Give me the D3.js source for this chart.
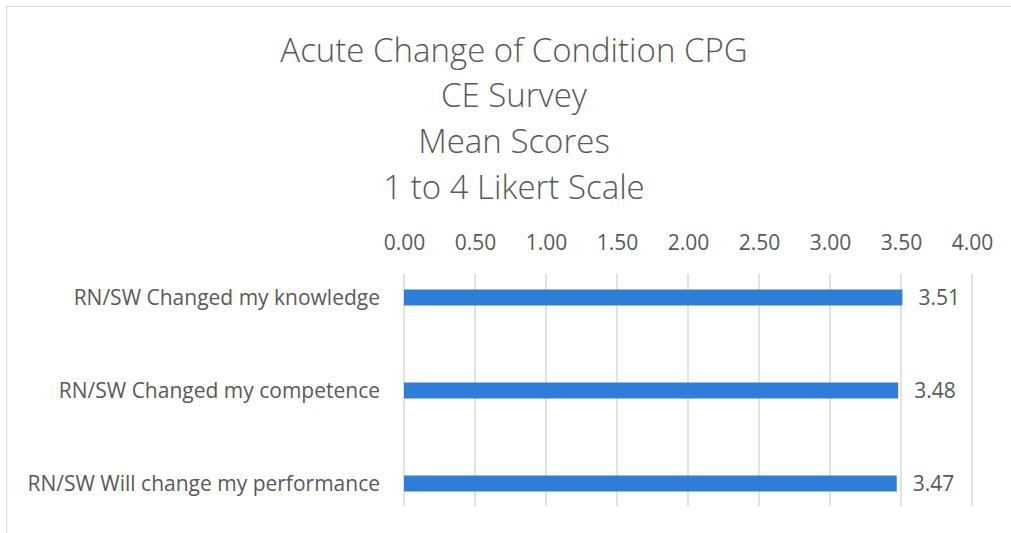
<!DOCTYPE html>
<html>
<head>
<meta charset="utf-8">
<script src="https://cdn.jsdelivr.net/npm/d3@7"></script>
<style>
  body { margin: 0; background: #fff; }
  text { font-family: "Open Sans", Lato, sans-serif; fill: #595959; }
</style>
</head>
<body>
<div class="chart"></div>
<script>
// chart data
let categories = ["RN/SW Changed my knowledge", "RN/SW Changed my competence", "RN/SW Will change my performance"];
let meanScores = [3.51, 3.48, 3.47];
let tickValues = [0, 0.5, 1, 1.5, 2, 2.5, 3, 3.5, 4];
let titleLines = ["Acute Change of Condition CPG", "CE Survey", "Mean Scores", "1 to 4 Likert Scale"];

let svgWidth = 1011;
let svgHeight = 533;

let svg = d3.select(".chart")
  .append("svg")
  .attr("width", svgWidth)
  .attr("height", svgHeight);

// chart border
svg.append("rect")
  .attr("x", 6.5)
  .attr("y", 6.5)
  .attr("width", 1020)
  .attr("height", 540)
  .attr("fill", "none")
  .attr("stroke", "#d9d9d9");

let xScale = d3.scaleLinear()
  .domain([0, 4])
  .range([404, 972]);

let yScale = d3.scaleBand()
  .domain(categories)
  .range([251, 530]);

let gridTop = 274, gridBottom = 506;

// title
svg.append("g").selectAll("text")
  .data(titleLines)
  .enter()
  .append("text")
  .attr("x", 514)
  .attr("y", (d, i) => 50 + i * 45.7)
  .attr("dy", "0.35em")
  .attr("text-anchor", "middle")
  .attr("font-size", "33px")
  .attr("font-weight", 300)
  .text(d => d);

// gridlines
svg.append("g").selectAll("line")
  .data(tickValues)
  .enter()
  .append("line")
  .attr("x1", d => xScale(d))
  .attr("x2", d => xScale(d))
  .attr("y1", gridTop)
  .attr("y2", gridBottom)
  .attr("stroke", "#d9d9d9")
  .attr("stroke-width", 1.5);

// top axis
let topAxis = d3.axisTop(xScale)
  .tickValues(tickValues)
  .tickFormat(d3.format(".2f"))
  .tickSize(0)
  .tickPadding(0);

let axisG = svg.append("g")
  .attr("transform", "translate(0, 243)")
  .call(topAxis);
axisG.select(".domain").remove();
axisG.selectAll("text")
  .attr("dy", "0.35em")
  .attr("font-size", "21px")
  .style("font-family", "'Open Sans', Lato, sans-serif")
  .attr("fill", "#595959");

// category labels
svg.append("g").selectAll("text")
  .data(categories)
  .enter()
  .append("text")
  .attr("x", 380)
  .attr("y", d => yScale(d) + yScale.bandwidth() / 2)
  .attr("dy", "0.35em")
  .attr("text-anchor", "end")
  .attr("font-size", "21px")
  .text(d => d);

// bars
let barHeight = 16;
svg.append("g").selectAll("rect")
  .data(meanScores)
  .enter()
  .append("rect")
  .attr("x", xScale(0))
  .attr("y", (d, i) => yScale(categories[i]) + yScale.bandwidth() / 2 - barHeight / 2)
  .attr("width", d => xScale(d) - xScale(0))
  .attr("height", barHeight)
  .attr("fill", "#2e7dd7");

// value labels
svg.append("g").selectAll("text")
  .data(meanScores)
  .enter()
  .append("text")
  .attr("x", d => xScale(d) + 16)
  .attr("y", (d, i) => yScale(categories[i]) + yScale.bandwidth() / 2)
  .attr("dy", "0.35em")
  .attr("font-size", "21px")
  .attr("fill", "#404040")
  .text(d => d.toFixed(2));
</script>
</body>
</html>
